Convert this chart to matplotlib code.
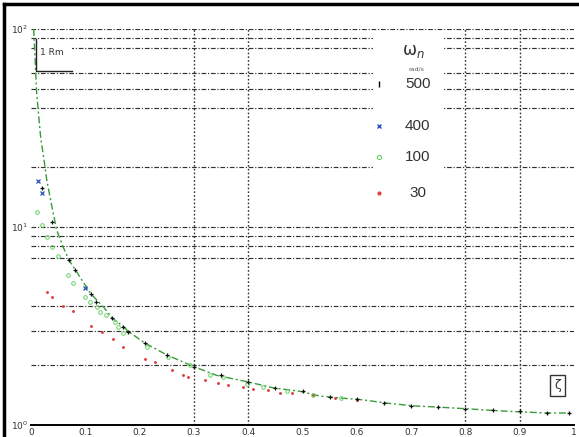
import matplotlib
matplotlib.use("Agg")
import matplotlib.pyplot as plt
from matplotlib.lines import Line2D
from matplotlib.patches import Rectangle

# ---- data ----
curve_x = [0.005, 0.0105, 0.018, 0.024, 0.029, 0.035, 0.038, 0.047, 0.059, 0.07, 0.09,
           0.11, 0.133, 0.15, 0.17, 0.18, 0.21, 0.25, 0.3, 0.342, 0.4, 0.446, 0.495,
           0.532, 0.569, 0.611, 0.655, 0.703, 0.753, 0.797, 0.839, 0.885, 0.95, 0.993]
curve_y = [100, 47, 28, 21.8, 17.3, 14.2, 12.9, 9.7, 7.95, 6.8, 5.6,
           4.6, 3.96, 3.46, 3.14, 2.96, 2.59, 2.26, 1.97, 1.78, 1.65, 1.54, 1.48,
           1.40, 1.37, 1.34, 1.29, 1.25, 1.23, 1.21, 1.19, 1.17, 1.15, 1.15]

w500_x = [0.02, 0.038, 0.07, 0.081, 0.11, 0.119, 0.15, 0.169, 0.179, 0.21, 0.25, 0.3,
          0.35, 0.4, 0.45, 0.5, 0.55, 0.6, 0.65, 0.7, 0.75, 0.8, 0.85, 0.9, 0.95, 0.99]
w500_y = [15.8, 10.6, 6.8, 6.1, 4.57, 4.17, 3.48, 3.14, 2.96, 2.59, 2.26, 1.96,
          1.78, 1.65, 1.53, 1.48, 1.39, 1.35, 1.29, 1.25, 1.23, 1.21, 1.19, 1.17, 1.15, 1.15]

w400_x = [0.012, 0.0197, 0.099]
w400_y = [17.0, 14.9, 4.9]

w100_x = [0.0105, 0.0197, 0.029, 0.038, 0.05, 0.068, 0.077, 0.099, 0.109, 0.121, 0.127,
          0.139, 0.155, 0.16, 0.17, 0.213, 0.252, 0.293, 0.33, 0.354, 0.397, 0.428, 0.471,
          0.52, 0.57]
w100_y = [11.9, 10.2, 8.9, 7.95, 7.1, 5.7, 5.2, 4.45, 4.2, 3.96, 3.74,
          3.6, 3.33, 3.14, 2.91, 2.48, 2.21, 2.01, 1.79, 1.75, 1.62, 1.56, 1.49,
          1.41, 1.37]

w30_x = [0.029, 0.038, 0.059, 0.077, 0.11, 0.13, 0.151, 0.169, 0.21, 0.228, 0.259, 0.28,
         0.289, 0.32, 0.344, 0.363, 0.39, 0.409, 0.436, 0.459, 0.48, 0.52, 0.56, 0.6]
w30_y = [4.7, 4.45, 4.0, 3.76, 3.17, 2.96, 2.72, 2.48, 2.15, 2.08, 1.9, 1.79,
         1.75, 1.69, 1.63, 1.59, 1.56, 1.52, 1.50, 1.45, 1.45, 1.41, 1.37, 1.34]

x_ticks = [0, 0.1, 0.2, 0.3, 0.4, 0.5, 0.6, 0.7, 0.8, 0.9, 1]
x_ticklabels = ['0', '0.1', '0.2', '0.3', '0.4', '0.5', '0.6', '0.7', '0.8', '0.9', '1']
y_ticks = [1, 10, 100]
y_ticklabels = [r'$10^{0}$', r'$10^{1}$', r'$10^{2}$']
legend_labels = ['500', '400', '100', '30']
legend_title = r'$\mathrm{\omega}_n$'
legend_unit = 'rad/s'
x_label = 'ζ'
y_label = '1 Rm'

h_grid = [100, 90, 80, 60, 50, 40, 20, 10, 9, 8, 7, 4, 3, 2]
v_grid = [0.3, 0.4, 0.8, 0.9]

# ---- figure ----
fig = plt.figure(figsize=(5.79, 4.37), dpi=100)
ax = fig.add_axes([31/579, 12/437, 543/579, 396/437])
ax.set_yscale('log')
ax.set_xlim(0, 1)
ax.set_ylim(1, 100)

for v in h_grid:
    ax.axhline(v, color='#333333', lw=0.85, ls=(0, (4, 1.5, 1, 1.5)), zorder=1)
for v in v_grid:
    ax.axvline(v, color='#333333', lw=1.0, ls=(0, (1.2, 1.5)), zorder=1)

ax.plot(curve_x, curve_y, color='#3a9a3a', lw=1.0, ls=(0, (5, 2, 1.5, 2)), zorder=3)
ax.plot(w30_x, w30_y, ls='none', marker='.', ms=2.2, color='#e04040', zorder=4)
ax.plot(w100_x, w100_y, ls='none', marker='o', ms=2.6, mfc='none', mec='#66d066', mew=0.7, zorder=4)
ax.plot(w400_x, w400_y, ls='none', marker='x', ms=2.6, color='#2a4fbf', mew=0.9, zorder=5)
ax.plot(w500_x, w500_y, ls='none', marker='+', ms=3.5, color='#111111', mew=0.9, zorder=5)

ax.set_xticks(x_ticks)
ax.set_xticklabels(x_ticklabels, fontsize=6.5, color='#333333')
ax.set_yticks(y_ticks)
ax.set_yticklabels(y_ticklabels, fontsize=6.5, color='#333333')
ax.minorticks_off()
ax.tick_params(axis='both', length=0, pad=2)
for s in ['top', 'right', 'left']:
    ax.spines[s].set_visible(False)
ax.spines['bottom'].set_linewidth(1.4)
ax.spines['bottom'].set_zorder(6)

# legend (manual, white background, no frame)
ax.add_patch(Rectangle((0.63, 0.535), 0.13, 0.455, transform=ax.transAxes,
                       facecolor='white', edgecolor='none', zorder=2))
lx_m, lx_t = 0.640, 0.712
ax.text(0.705, 0.945, legend_title, transform=ax.transAxes, fontsize=12,
        ha='center', va='center', color='#333333', zorder=7)
ax.text(0.709, 0.900, legend_unit, transform=ax.transAxes, fontsize=4.5,
        ha='center', va='center', color='#555555', zorder=7)
leg_y = [0.862, 0.756, 0.676, 0.585]
leg_styles = [dict(marker='|', ms=4, color='black', mew=1.0),
              dict(marker='x', ms=3, color='#2a4fbf', mew=1.0),
              dict(marker='o', ms=3, mfc='none', mec='#66d066', mew=0.8),
              dict(marker='.', ms=4, color='#e04040')]
for yy, lab, st in zip(leg_y, legend_labels, leg_styles):
    ax.plot([lx_m], [yy], transform=ax.transAxes, ls='none', zorder=7, clip_on=False, **st)
    ax.text(lx_t, yy, lab, transform=ax.transAxes, fontsize=11, ha='center',
            va='center', color='#333333', zorder=7, family='Liberation Sans')

# y label box "1 Rm"
ax.add_patch(Rectangle((0.005, 0.893), 0.07, 0.08, transform=ax.transAxes,
                       facecolor='white', edgecolor='none', zorder=2))
ax.plot([0.0085, 0.0085, 0.075], [0.975, 0.893, 0.893], transform=ax.transAxes,
        color='#222222', lw=1.0, zorder=7, clip_on=False)
ax.text(0.016, 0.94, y_label, transform=ax.transAxes, fontsize=6.5, ha='left',
        va='center', color='#333333', zorder=7)

# x label box
ax.text(0.97, 0.1, x_label, transform=ax.transAxes, fontsize=9, ha='center',
        va='center', color='#333333', zorder=7,
        bbox=dict(boxstyle='square,pad=0.35', fc='white', ec='#333333', lw=1.0))

# thick figure frame (left and top)
fig.add_artist(Line2D([4/579, 4/579], [0, 1 - 4/437], transform=fig.transFigure,
                      color='black', lw=2.5))
fig.add_artist(Line2D([4/579, 1], [1 - 4/437, 1 - 4/437], transform=fig.transFigure,
                      color='black', lw=2.5))

fig.savefig('out.png', dpi=100)
